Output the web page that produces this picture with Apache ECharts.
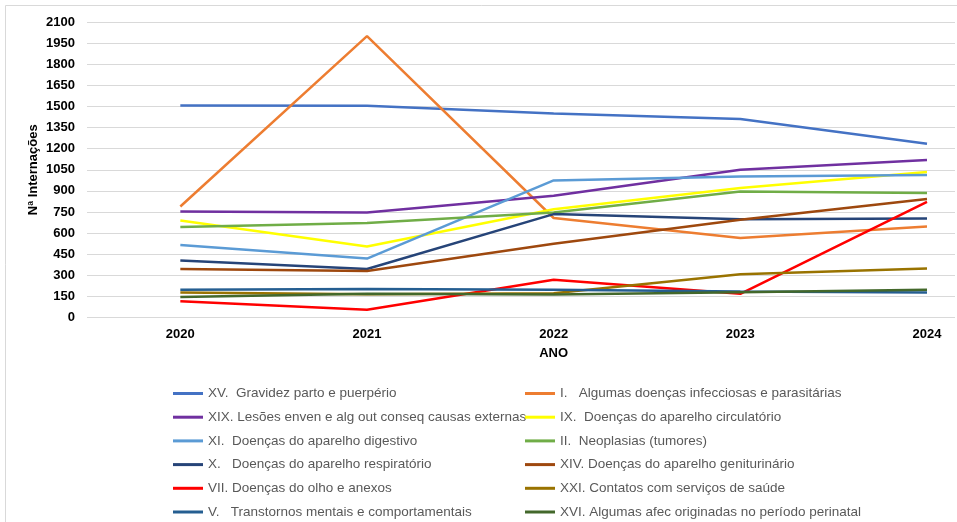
<!DOCTYPE html>
<html>
<head>
<meta charset="utf-8">
<script src="https://cdn.jsdelivr.net/npm/echarts@6/dist/echarts.min.js"></script>
<style>
  html, body { margin: 0; padding: 0; background: #fff; }
  #chart { width: 957px; height: 522px; }
</style>
</head>
<body>
<div id="chart"></div>
<script>
// Internações por capítulo CID-10, 2020–2024
const years = [2020, 2021, 2022, 2023, 2024];

const xv   = [1507, 1505, 1450, 1410, 1235];   // XV. Gravidez parto e puerpério
const i    = [789, 2000, 707, 565, 647];       // I. Algumas doenças infecciosas e parasitárias
const xix  = [754, 746, 865, 1050, 1120];      // XIX. Lesões enven e alg out conseq causas externas
const ix   = [690, 505, 770, 920, 1034];       // IX. Doenças do aparelho circulatório
const xi   = [515, 419, 974, 1002, 1012];      // XI. Doenças do aparelho digestivo
const ii   = [643, 671, 747, 896, 884];        // II. Neoplasias (tumores)
const x    = [405, 345, 735, 699, 704];        // X. Doenças do aparelho respiratório
const xiv  = [344, 330, 524, 694, 842];        // XIV. Doenças do aparelho geniturinário
const vii  = [116, 55, 268, 168, 822];         // VII. Doenças do olho e anexos
const xxi  = [178, 166, 173, 308, 348];        // XXI. Contatos com serviços de saúde
const v    = [197, 202, 197, 185, 178];        // V. Transtornos mentais e comportamentais
const xvi  = [145, 168, 164, 180, 197];        // XVI. Algumas afec originadas no período perinatal

const yTicks = { min: 0, max: 2100, step: 150 };
// Year axis runs half a step before the first year; the plot continues past the last one
const xRange = { min: 2019.5, max: 2024.15, step: 0.5 };

const seriesDefs = [
  { name: 'XV.  Gravidez parto e puerpério', data: xv, color: '#4472C4' },
  { name: 'I.   Algumas doenças infecciosas e parasitárias', data: i, color: '#ED7D31' },
  { name: 'XIX. Lesões enven e alg out conseq causas externas', data: xix, color: '#7030A0' },
  { name: 'IX.  Doenças do aparelho circulatório', data: ix, color: '#FFFF00' },
  { name: 'XI.  Doenças do aparelho digestivo', data: xi, color: '#5B9BD5' },
  { name: 'II.  Neoplasias (tumores)', data: ii, color: '#70AD47' },
  { name: 'X.   Doenças do aparelho respiratório', data: x, color: '#264478' },
  { name: 'XIV. Doenças do aparelho geniturinário', data: xiv, color: '#9E480E' },
  { name: 'VII. Doenças do olho e anexos', data: vii, color: '#FF0000' },
  { name: 'XXI. Contatos com serviços de saúde', data: xxi, color: '#997300' },
  { name: 'V.   Transtornos mentais e comportamentais', data: v, color: '#255E91' },
  { name: 'XVI. Algumas afec originadas no período perinatal', data: xvi, color: '#43682B' }
];

const leftNames = seriesDefs.filter((_, k) => k % 2 === 0).map(s => s.name);
const rightNames = seriesDefs.filter((_, k) => k % 2 === 1).map(s => s.name);

const font = 'Arial, "Liberation Sans", sans-serif';

const legendBase = {
  orient: 'vertical',
  top: 386.5,
  padding: 0,
  icon: 'rect',
  itemWidth: 30,
  itemHeight: 3,
  itemGap: 9.7,
  selectedMode: false,
  textStyle: { fontFamily: font, fontSize: 13.5, lineHeight: 14, color: '#595959' }
};

const chart = echarts.init(document.getElementById('chart'), null, { renderer: 'canvas' });

chart.setOption({
  animation: false,
  backgroundColor: '#ffffff',
  grid: { left: 87, top: 22, right: 2, height: 295.5, containLabel: false },
  legend: [
    Object.assign({}, legendBase, { left: 173, data: leftNames }),
    Object.assign({}, legendBase, { left: 525, data: rightNames })
  ],
  xAxis: {
    type: 'value',
    min: xRange.min,
    max: xRange.max,
    interval: xRange.step,
    axisLine: { show: false },
    axisTick: { show: false },
    axisLabel: {
      fontFamily: font, fontSize: 13, fontWeight: 'bold', color: '#000', margin: 10,
      showMaxLabel: false,
      formatter: val => (Math.abs(val - Math.round(val)) < 1e-6 ? String(Math.round(val)) : '')
    },
    splitLine: { show: false }
  },
  yAxis: {
    type: 'value',
    min: yTicks.min,
    max: yTicks.max,
    interval: yTicks.step,
    name: 'Nª Internações',
    nameLocation: 'middle',
    nameGap: 47,
    nameMoveOverlap: false,
    nameTextStyle: { fontFamily: font, fontSize: 13, fontWeight: 'bold', color: '#000' },
    axisLine: { show: false },
    axisTick: { show: false },
    axisLabel: {
      fontFamily: font, fontSize: 13, fontWeight: 'bold', color: '#000', margin: 12,
      formatter: val => String(val)
    },
    splitLine: { lineStyle: { color: '#D9D9D9', width: 1 } }
  },
  series: seriesDefs.map(s => ({
    type: 'line',
    name: s.name,
    data: years.map((yr, k) => [yr, s.data[k]]),
    symbol: 'none',
    color: s.color,
    lineStyle: { width: 2.5, color: s.color }
  }))
});

// Axis title under the middle year, plus the frame's left and top edges
const midYear = years[Math.floor(years.length / 2)];
const titleX = chart.convertToPixel({ xAxisIndex: 0 }, midYear);
const baseY = chart.convertToPixel({ yAxisIndex: 0 }, yTicks.min);
chart.setOption({
  graphic: [
    {
      type: 'text',
      x: titleX,
      y: baseY + 29,
      style: {
        text: 'ANO', fontFamily: font, fontSize: 13, fontWeight: 'bold', fill: '#000',
        align: 'center', verticalAlign: 'top'
      },
      silent: true
    },
    {
      type: 'polyline',
      shape: { points: [[5.5, 530], [5.5, 5.5], [960, 5.5]] },
      style: { fill: 'none', stroke: '#D9D9D9', lineWidth: 1 },
      silent: true
    }
  ]
});
</script>
</body>
</html>
